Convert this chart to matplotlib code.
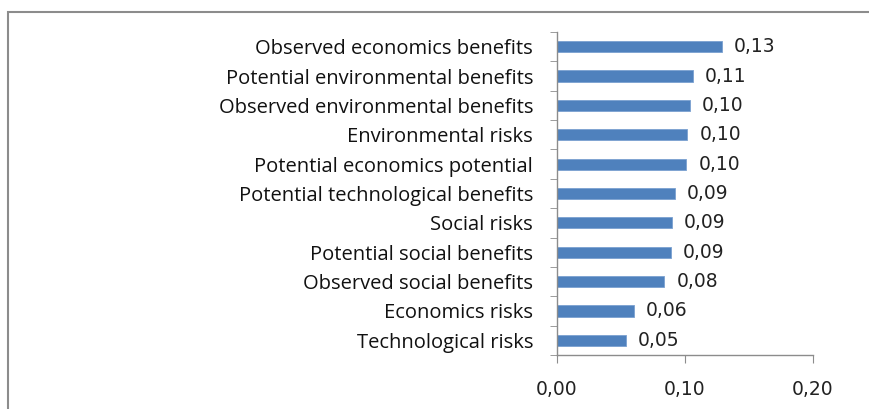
import matplotlib.pyplot as plt
from matplotlib.patches import Rectangle
import numpy as np

categories = [
    "Observed economics benefits",
    "Potential environmental benefits",
    "Observed environmental benefits",
    "Environmental risks",
    "Potential economics potential",
    "Potential technological benefits",
    "Social risks",
    "Potential social benefits",
    "Observed social benefits",
    "Economics risks",
    "Technological risks",
]
values = [0.129, 0.106, 0.104, 0.102, 0.101, 0.092, 0.090, 0.089, 0.084, 0.060, 0.054]
xticks = [0.0, 0.1, 0.2]


def comma(v):
    return f"{v:.2f}".replace(".", ",")


plt.rcParams["font.family"] = ["Open Sans", "DejaVu Sans"]
numfont = ["DejaVu Sans"]

fig = plt.figure(figsize=(8.69, 4.09), dpi=100)
fig.patches.append(Rectangle((8 / 869, -0.1), 1.2, 1 - 12 / 409 + 0.1,
                             transform=fig.transFigure, fill=False,
                             edgecolor="#8c8c8c", linewidth=1.5))

ax = fig.add_axes([556.7 / 869, 1 - 355 / 409, (813 - 556.7) / 869, (355 - 32) / 409])

y = np.arange(len(categories))[::-1]
ax.barh(y, values, height=0.38, color="#4f81bd", edgecolor="#7aa0d0", linewidth=0.6)

for yi, v in zip(y, values):
    ax.text(v + 0.0095, yi, comma(v), va="center", ha="left", fontsize=13.5,
            family=numfont, color="#222222")

ax.set_xlim(0, 0.2)
ax.set_ylim(-0.5, len(categories) - 0.5)
ax.set_yticks(y)
ax.set_yticklabels(categories, fontsize=14.5, color="#111111")
ax.tick_params(axis="y", which="major", length=0, pad=17)
ax.set_yticks(np.arange(-0.5, len(categories)), minor=True)
ax.tick_params(axis="y", which="minor", length=5, color="#8c8c8c", direction="out")

ax.set_xticks(xticks)
ax.set_xticklabels([comma(t) for t in xticks], fontsize=13.5, family=numfont, color="#222222")
ax.tick_params(axis="x", length=6, color="#8c8c8c", pad=12, direction="out")

for s in ["top", "right"]:
    ax.spines[s].set_visible(False)
for s in ["left", "bottom"]:
    ax.spines[s].set_color("#8c8c8c")
    ax.spines[s].set_linewidth(1.0)

fig.savefig("out.png", dpi=100)
